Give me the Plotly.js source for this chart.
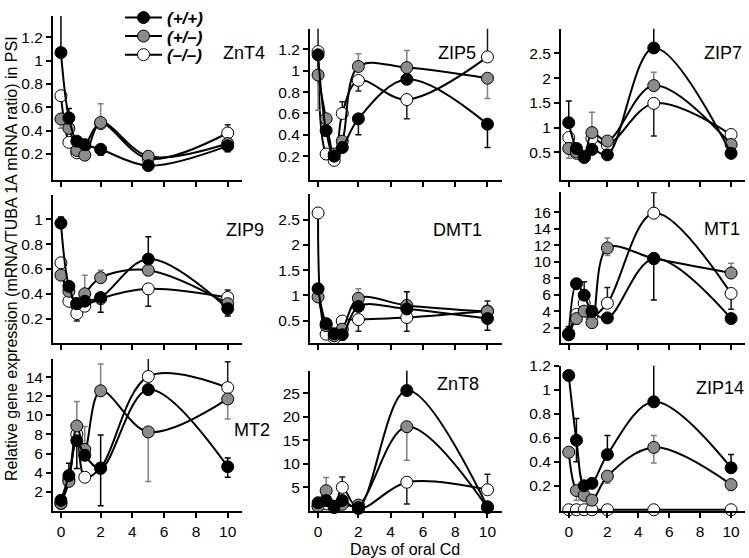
<!DOCTYPE html>
<html>
<head>
<meta charset="utf-8">
<script src="https://cdn.plot.ly/plotly-3.0.1.min.js"></script>
<style>html,body{margin:0;padding:0;background:#fff}#chart{width:749px;height:558px}</style>
</head>
<body>
<div id="chart"></div>
<script>
// ---------------- DATA ----------------
// Sampling positions on the day axis (control plotted at tick "0")
const timePos = [-0.5, 0, 0.5, 1, 2, 5, 10];
const xTickVals = [-0.5, 2, 4, 6, 8, 10];
const xTickText = ['0', '2', '4', '6', '8', '10'];
const seriesNames = ['(+/+)', '(+/\u2013)', '(\u2013/\u2013)'];
const genes = ['ZnT4', 'ZIP5', 'ZIP7', 'ZIP9', 'DMT1', 'MT1', 'MT2', 'ZnT8', 'ZIP14'];

// ZnT4
const ZnT4_wt = [1.07, 0.51, 0.31, 0.28, 0.24, 0.10, 0.27];
const ZnT4_het = [0.50, 0.42, 0.23, 0.19, 0.47, 0.18, 0.29];
const ZnT4_ko = [0.70, 0.30, 0.21, 0.27, 0.46, 0.16, 0.38];
const ZnT4_wt_up = [0.33, 0.08, 0, 0, 0.04, 0, 0.03];
const ZnT4_wt_dn = [0, 0.05, 0, 0, 0.05, 0, 0.05];
const ZnT4_het_up = [0, 0, 0, 0, 0.16, 0, 0];
const ZnT4_het_dn = [0.08, 0, 0, 0, 0, 0, 0];
const ZnT4_ko_up = [0, 0, 0, 0, 0, 0, 0.07];
const ZnT4_ko_dn = [0, 0, 0.03, 0, 0, 0, 0];
const ZnT4_ticks = [0.2, 0.4, 0.6, 0.8, 1, 1.2];

// ZIP5
const ZIP5_wt = [1.15, 0.44, 0.20, 0.28, 0.55, 0.92, 0.50];
const ZIP5_het = [0.96, 0.55, 0.22, 0.34, 1.04, 1.03, 0.93];
const ZIP5_ko = [1.18, 0.22, 0.16, 0.60, 0.91, 0.73, 1.13];
const ZIP5_wt_up = [0, 0, 0, 0, 0, 0, 0];
const ZIP5_wt_dn = [0, 0.05, 0, 0, 0.15, 0, 0.22];
const ZIP5_het_up = [0, 0, 0, 0, 0.12, 0.16, 0];
const ZIP5_het_dn = [0.33, 0, 0, 0, 0, 0, 0.19];
const ZIP5_ko_up = [0.29, 0, 0, 0.11, 0, 0, 0.30];
const ZIP5_ko_dn = [0, 0.05, 0, 0, 0.10, 0.18, 0];
const ZIP5_ticks = [0.2, 0.4, 0.6, 0.8, 1, 1.2];

// ZIP7
const ZIP7_wt = [1.10, 0.58, 0.40, 0.56, 0.45, 2.61, 0.48];
const ZIP7_het = [0.58, 0.51, 0.42, 0.90, 0.73, 1.85, 0.66];
const ZIP7_ko = [0.80, 0.48, 0.40, 0.78, 0.65, 1.49, 0.86];
const ZIP7_wt_up = [0.44, 0, 0, 0, 0, 0.50, 0];
const ZIP7_wt_dn = [0, 0, 0, 0, 0, 0, 0];
const ZIP7_het_up = [0, 0, 0, 0.41, 0, 0.27, 0];
const ZIP7_het_dn = [0.20, 0, 0, 0, 0, 0, 0];
const ZIP7_ko_up = [0, 0, 0, 0, 0, 0, 0];
const ZIP7_ko_dn = [0, 0, 0, 0, 0, 0.66, 0];
const ZIP7_ticks = [0.5, 1, 1.5, 2, 2.5];

// ZIP9
const ZIP9_wt = [0.97, 0.46, 0.32, 0.34, 0.37, 0.68, 0.28];
const ZIP9_het = [0.55, 0.42, 0.32, 0.40, 0.53, 0.59, 0.32];
const ZIP9_ko = [0.65, 0.34, 0.24, 0.30, 0.36, 0.44, 0.37];
const ZIP9_wt_up = [0.05, 0, 0, 0, 0, 0.18, 0];
const ZIP9_wt_dn = [0, 0, 0, 0, 0.12, 0, 0.06];
const ZIP9_het_up = [0, 0, 0, 0.15, 0.06, 0, 0];
const ZIP9_het_dn = [0, 0, 0, 0, 0, 0, 0];
const ZIP9_ko_up = [0, 0, 0, 0, 0, 0, 0.06];
const ZIP9_ko_dn = [0, 0, 0.06, 0, 0, 0.14, 0];
const ZIP9_ticks = [0.2, 0.4, 0.6, 0.8, 1];

// DMT1
const DMT1_wt = [1.13, 0.44, 0.24, 0.22, 0.78, 0.73, 0.54];
const DMT1_het = [0.97, 0.40, 0.20, 0.33, 0.94, 0.80, 0.68];
const DMT1_ko = [2.63, 0.23, 0.15, 0.49, 0.52, 0.56, 0.69];
const DMT1_wt_up = [0, 0, 0, 0, 0, 0.34, 0];
const DMT1_wt_dn = [0, 0, 0, 0, 0, 0, 0.23];
const DMT1_het_up = [0, 0, 0, 0, 0.19, 0, 0];
const DMT1_het_dn = [0, 0, 0, 0, 0, 0, 0];
const DMT1_ko_up = [0, 0, 0, 0, 0, 0, 0.20];
const DMT1_ko_dn = [0, 0, 0, 0, 0.23, 0.27, 0];
const DMT1_ticks = [0.5, 1, 1.5, 2, 2.5];

// MT1
const MT1_wt = [1.13, 7.32, 5.94, 3.97, 3.18, 10.36, 3.10];
const MT1_het = [1.20, 3.10, 4.00, 2.60, 11.66, 10.40, 8.62];
const MT1_ko = [1.30, 3.60, 4.96, 3.40, 4.96, 15.88, 6.14];
const MT1_wt_up = [1.0, 0.6, 0, 0, 0, 0, 0];
const MT1_wt_dn = [0, 0, 0, 0, 0, 5.0, 0];
const MT1_het_up = [0, 0, 0, 0, 1.2, 0, 1.2];
const MT1_het_dn = [0, 0.7, 0, 0, 0.9, 0, 0];
const MT1_ko_up = [0, 0, 2.6, 0, 1.9, 2.5, 0];
const MT1_ko_dn = [0, 0, 1.4, 0, 0, 0, 1.9];
const MT1_ticks = [2, 4, 6, 8, 10, 12, 14, 16];

// MT2
const MT2_wt = [1.11, 3.70, 7.35, 5.82, 4.45, 12.70, 4.63];
const MT2_het = [0.80, 3.09, 8.89, 6.43, 12.57, 8.27, 11.72];
const MT2_ko = [0.77, 3.30, 8.03, 3.53, 4.50, 14.07, 12.90];
const MT2_wt_up = [0, 1.3, 0, 0, 3.5, 0, 0.9];
const MT2_wt_dn = [0, 0, 2.9, 0, 3.9, 0, 1.1];
const MT2_het_up = [0, 0, 2.55, 2.4, 2.8, 0, 0];
const MT2_het_dn = [0, 0, 0, 0, 0, 5.2, 2.1];
const MT2_ko_up = [0, 0, 0, 0, 0, 2.2, 2.7];
const MT2_ko_dn = [0.3, 0, 0, 0, 0, 0, 0];
const MT2_ticks = [2, 4, 6, 8, 10, 12, 14];

// ZnT8
const ZnT8_wt = [1.74, 2.20, 1.00, 2.20, 0.70, 25.60, 0.90];
const ZnT8_het = [1.00, 4.30, 1.00, 1.40, 1.25, 17.90, 0.70];
const ZnT8_ko = [1.00, 1.50, 0.70, 5.00, 0.50, 6.10, 4.50];
const ZnT8_wt_up = [0, 0, 0, 0, 0, 5.0, 0];
const ZnT8_wt_dn = [0, 0, 0, 0, 0, 0, 0];
const ZnT8_het_up = [0, 2.8, 0, 0, 0, 0, 0];
const ZnT8_het_dn = [0, 0, 0, 0, 0, 7.1, 0];
const ZnT8_ko_up = [0, 0, 0, 2.2, 0, 0, 3.3];
const ZnT8_ko_dn = [0, 0, 0, 0, 0, 4.6, 0];
const ZnT8_ticks = [5, 10, 15, 20, 25];

// ZIP14
const ZIP14_wt = [1.12, 0.58, 0.20, 0.22, 0.46, 0.90, 0.35];
const ZIP14_het = [0.48, 0.16, 0.12, 0.08, 0.28, 0.52, 0.21];
const ZIP14_ko = [0, 0, 0, 0, 0, 0, 0];
const ZIP14_wt_up = [0, 0.18, 0, 0, 0.16, 0.31, 0.11];
const ZIP14_wt_dn = [0, 0.18, 0, 0, 0, 0, 0];
const ZIP14_het_up = [0, 0, 0, 0, 0, 0.10, 0];
const ZIP14_het_dn = [0, 0.08, 0, 0, 0.06, 0.13, 0.05];
const ZIP14_ko_up = [0, 0, 0, 0, 0, 0, 0];
const ZIP14_ko_dn = [0, 0, 0, 0, 0, 0, 0];
const ZIP14_ticks = [0.2, 0.4, 0.6, 0.8, 1, 1.2];

// ---------------- ASSEMBLY ----------------
const panelData = {
  ZnT4: [ZnT4_wt, ZnT4_het, ZnT4_ko, ZnT4_wt_up, ZnT4_wt_dn, ZnT4_het_up, ZnT4_het_dn, ZnT4_ko_up, ZnT4_ko_dn, ZnT4_ticks],
  ZIP5: [ZIP5_wt, ZIP5_het, ZIP5_ko, ZIP5_wt_up, ZIP5_wt_dn, ZIP5_het_up, ZIP5_het_dn, ZIP5_ko_up, ZIP5_ko_dn, ZIP5_ticks],
  ZIP7: [ZIP7_wt, ZIP7_het, ZIP7_ko, ZIP7_wt_up, ZIP7_wt_dn, ZIP7_het_up, ZIP7_het_dn, ZIP7_ko_up, ZIP7_ko_dn, ZIP7_ticks],
  ZIP9: [ZIP9_wt, ZIP9_het, ZIP9_ko, ZIP9_wt_up, ZIP9_wt_dn, ZIP9_het_up, ZIP9_het_dn, ZIP9_ko_up, ZIP9_ko_dn, ZIP9_ticks],
  DMT1: [DMT1_wt, DMT1_het, DMT1_ko, DMT1_wt_up, DMT1_wt_dn, DMT1_het_up, DMT1_het_dn, DMT1_ko_up, DMT1_ko_dn, DMT1_ticks],
  MT1: [MT1_wt, MT1_het, MT1_ko, MT1_wt_up, MT1_wt_dn, MT1_het_up, MT1_het_dn, MT1_ko_up, MT1_ko_dn, MT1_ticks],
  MT2: [MT2_wt, MT2_het, MT2_ko, MT2_wt_up, MT2_wt_dn, MT2_het_up, MT2_het_dn, MT2_ko_up, MT2_ko_dn, MT2_ticks],
  ZnT8: [ZnT8_wt, ZnT8_het, ZnT8_ko, ZnT8_wt_up, ZnT8_wt_dn, ZnT8_het_up, ZnT8_het_dn, ZnT8_ko_up, ZnT8_ko_dn, ZnT8_ticks],
  ZIP14: [ZIP14_wt, ZIP14_het, ZIP14_ko, ZIP14_wt_up, ZIP14_wt_dn, ZIP14_het_up, ZIP14_het_dn, ZIP14_ko_up, ZIP14_ko_dn, ZIP14_ticks]
};

const W = 749, H = 558;
const px = v => v / W;
const py = v => 1 - v / H;
const FONT = 'Liberation Sans, Arial, sans-serif';

// layout geometry (pixels): columns, rows, y-ranges
const colX = [[53, 242], [310, 502], [561, 745]];
const rowBottom = [172, 339, 510];
const panelTop = {ZnT4: 5, ZIP5: 18, ZIP7: 18, ZIP9: 188, DMT1: 187, MT1: 185, MT2: 355, ZnT8: 367, ZIP14: 362};
const panelRange = {
  ZnT4: [-0.02, 1.385], ZIP5: [-0.02, 1.395], ZIP7: [-0.05, 3.0],
  ZIP9: [0, 1.195], DMT1: [0.05, 3.0], MT1: [0.1, 18.4],
  MT2: [0, 15.9], ZnT8: [0, 29.8], ZIP14: [-0.01, 1.2]
};
const labelPos = {
  ZnT4: [244, 43], ZIP5: [457, 43], ZIP7: [723, 43],
  ZIP9: [245, 223], DMT1: [457, 223], MT1: [722, 222],
  MT2: [252, 427], ZnT8: [458, 380], ZIP14: [720, 385]
};

const fills = ['#000000', '#8c8c8c', '#ffffff'];
const errColors = ['#000000', '#808080', '#1a1a1a'];
const legendIds = ['legend', 'legend2', 'legend3'];

const traces = [];
const layout = {
  width: W, height: H,
  margin: {l: 0, r: 0, t: 0, b: 0},
  paper_bgcolor: '#ffffff', plot_bgcolor: '#ffffff',
  font: {family: FONT, color: '#000'},
  showlegend: true,
  annotations: []
};

genes.forEach((g, i) => {
  const d = panelData[g];
  const r = Math.floor(i / 3), c = i % 3;
  const suf = i === 0 ? '' : String(i + 1);
  const xa = 'x' + suf, ya = 'y' + suf;
  layout['xaxis' + suf] = {
    domain: [px(colX[c][0]), px(colX[c][1])],
    anchor: ya, range: [-1.0, 10.9],
    tickvals: xTickVals, ticktext: xTickText,
    showticklabels: r === 2,
    ticks: 'outside', ticklen: 5, tickwidth: 2, tickcolor: '#000',
    showline: true, linewidth: 2, linecolor: '#000',
    showgrid: false, zeroline: false,
    tickfont: {family: FONT, size: 15.5, color: '#000'}
  };
  layout['yaxis' + suf] = {
    domain: [py(rowBottom[r]), py(panelTop[g])],
    anchor: xa, range: panelRange[g],
    tickvals: d[9],
    ticks: 'outside', ticklen: 5, tickwidth: 2, tickcolor: '#000',
    showline: true, linewidth: 2, linecolor: '#000',
    showgrid: false, zeroline: false,
    tickfont: {family: FONT, size: 15.5, color: '#000'}
  };
  layout.annotations.push({
    text: g, xref: 'paper', yref: 'paper',
    x: px(labelPos[g][0]), y: py(labelPos[g][1]),
    xanchor: 'center', yanchor: 'middle', showarrow: false,
    font: {family: FONT, size: 18, color: '#000'}
  });
  // draw order: (–/–), (+/–), (+/+)
  [2, 1, 0].forEach(s => {
    traces.push({
      type: 'scatter', mode: 'lines+markers',
      x: timePos, y: d[s],
      xaxis: xa, yaxis: ya,
      name: seriesNames[s],
      legend: legendIds[s],
      showlegend: i === 0,
      cliponaxis: false,
      line: {color: '#000', width: 2, shape: 'spline', smoothing: 1},
      marker: {size: 12, color: fills[s], line: {color: '#000', width: 1}},
      error_y: {
        type: 'data', symmetric: false,
        array: d[3 + s * 2], arrayminus: d[4 + s * 2],
        color: errColors[s], thickness: 1.5, width: 3
      }
    });
  });
});

// legends (one entry each)
const legendRowsY = [7, 26, 45];
legendIds.forEach((id, k) => {
  layout[id] = {
    x: px(120), xanchor: 'left',
    y: py(legendRowsY[k]), yanchor: 'middle',
    bgcolor: 'rgba(0,0,0,0)', borderwidth: 0,
    itemwidth: 37,
    font: {family: FONT, size: 17, color: '#000', weight: 'bold', style: 'italic'}
  };
});

// shared axis titles
layout.annotations.push({
  text: 'Relative gene expression (mRNA/TUBA 1A mRNA ratio) in PSI',
  xref: 'paper', yref: 'paper', x: px(11), y: py(253),
  xanchor: 'center', yanchor: 'middle', textangle: -90, showarrow: false,
  font: {family: FONT, size: 16, color: '#000'}
});
layout.annotations.push({
  text: 'Days of oral Cd',
  xref: 'paper', yref: 'paper', x: px(405), y: py(549),
  xanchor: 'center', yanchor: 'middle', showarrow: false,
  font: {family: FONT, size: 16, color: '#000'}
});

Plotly.newPlot('chart', traces, layout, {displayModeBar: false, staticPlot: true});
</script>
</body>
</html>
